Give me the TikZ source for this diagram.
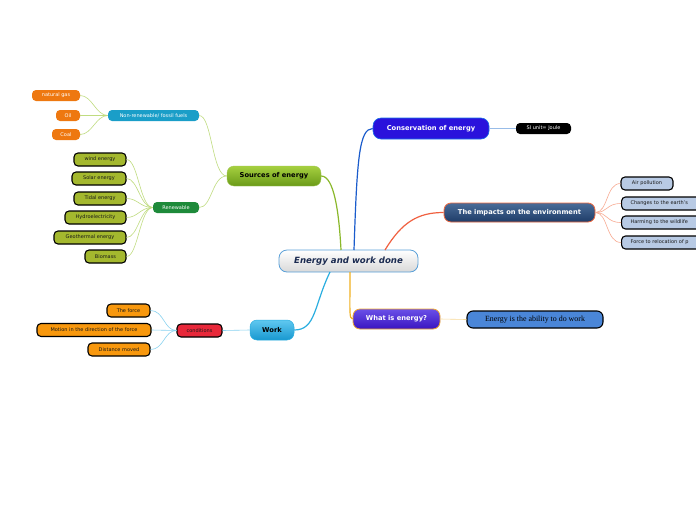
\documentclass[tikz,border=0pt]{standalone}
\usepackage{fontspec}
\setsansfont{DejaVu Sans}
\setmainfont{Liberation Serif}
\begin{document}
\begin{tikzpicture}[x=1pt,y=-1pt,
  box/.style={rounded corners=#1, inner sep=0pt, font=\sffamily},
  box/.default=4pt,
  tiny/.style={font=\sffamily\fontsize{5}{5.8}\selectfont},
  mid/.style={font=\sffamily\bfseries\fontsize{6.7}{7.8}\selectfont},
  leaf/.style={box, tiny, draw=black, line width=1.1pt, text=black!90},
  plain/.style={box, tiny, text=white},
  mainbr/.style={line width=1.2pt},
  subbr/.style={line width=0.6pt}
]
\definecolor{cBorder}{HTML}{5AA0D8}
\definecolor{cText}{HTML}{1A2A50}
\definecolor{gTop}{HTML}{A6D040}
\definecolor{gBot}{HTML}{6A9A18}
\definecolor{teal}{HTML}{1A9EC8}
\definecolor{fossil}{HTML}{EE7810}
\definecolor{renew}{HTML}{1E8A3A}
\definecolor{olive}{HTML}{A4B82E}
\definecolor{cons}{HTML}{2A12DC}
\definecolor{impTop}{HTML}{4A6C98}
\definecolor{impBot}{HTML}{1E3C68}
\definecolor{impBorder}{HTML}{F06A40}
\definecolor{impLeaf}{HTML}{B8CAE4}
\definecolor{wTop}{HTML}{60C8F0}
\definecolor{wBot}{HTML}{1898D0}
\definecolor{condRed}{HTML}{E8283A}
\definecolor{condLeaf}{HTML}{F8980E}
\definecolor{whTop}{HTML}{6A50E8}
\definecolor{whBot}{HTML}{3A14C0}
\definecolor{whBorder}{HTML}{F0A830}
\definecolor{ability}{HTML}{4A86D8}
\definecolor{lnGreen}{HTML}{8AB82A}
\definecolor{lnLGreen}{HTML}{C0DC80}
\definecolor{lnBlue}{HTML}{1A5CCC}
\definecolor{lnLBlue}{HTML}{98BCE8}
\definecolor{lnOrange}{HTML}{F06040}
\definecolor{lnSalmon}{HTML}{F8AA92}
\definecolor{lnSky}{HTML}{2AAEE0}
\definecolor{lnLSky}{HTML}{88D2F0}
\definecolor{lnYellow}{HTML}{F0B020}
\definecolor{lnLYellow}{HTML}{F8DA98}

\useasboundingbox (0,0) rectangle (696,520);
\clip (0,0) rectangle (696,520);
\fill[white] (0,0) rectangle (696,520);

\coordinate (cS) at (341,250);
\coordinate (cC) at (354,250);
\coordinate (cI) at (385,250);
\coordinate (cW) at (330,272);
\coordinate (cQ) at (350,272);

% ---- nodes ----
\node[box=8pt, draw=cBorder, line width=0.8pt, top color=white, bottom color=black!15,
      minimum width=139, minimum height=22, text=cText,
      font=\sffamily\bfseries\itshape\fontsize{8.6}{10}\selectfont] (ctr) at (348.5,261) {Energy and work done};

\node[box=7pt, top color=gTop, bottom color=gBot, draw=lnGreen!80, line width=0.4pt,
      minimum width=94, minimum height=20, mid, text=black] (src) at (274,176) {Sources of energy};
\node[plain, fill=teal, minimum width=91, minimum height=11] (nrf) at (153.5,115.5) {Non-renewable/ fossil fuels};
\node[plain, fill=fossil, minimum width=48, minimum height=11] (ng) at (56,95.5) {natural gas};
\node[plain, fill=fossil, minimum width=24, minimum height=11] (oil) at (68,115.5) {Oil};
\node[plain, fill=fossil, minimum width=28, minimum height=11] (coal) at (66,134.5) {Coal};
\node[plain, fill=renew, minimum width=46, minimum height=11] (ren) at (176,207.5) {Renewable};
\node[leaf, fill=olive, minimum width=52, minimum height=13] (wind) at (100,159.5) {wind energy};
\node[leaf, fill=olive, minimum width=54, minimum height=13] (solar) at (99,178.5) {Solar energy};
\node[leaf, fill=olive, minimum width=52, minimum height=13] (tidal) at (100,198.5) {Tidal energy};
\node[leaf, fill=olive, minimum width=61, minimum height=13] (hydro) at (95.5,217.5) {Hydroelectricity};
\node[leaf, fill=olive, minimum width=72, minimum height=13] (geo) at (90,237.5) {Geothermal energy};
\node[leaf, fill=olive, minimum width=41, minimum height=13] (bio) at (105.5,256.5) {Biomass};

\node[box=8pt, fill=cons, draw=cons!60!cyan, line width=0.6pt, minimum width=116, minimum height=21,
      mid, text=white] (con) at (431,128.5) {Conservation of energy};
\node[plain, fill=black, minimum width=55, minimum height=11] (si) at (543.5,128.5) {SI unit= Joule};

\node[box=7pt, top color=impTop, bottom color=impBot, draw=impBorder, line width=0.8pt,
      minimum width=151, minimum height=19, mid, text=white] (imp) at (519.5,212.5) {The impacts on the environment};
\node[leaf, fill=impLeaf, minimum width=52, minimum height=13] (air) at (647,183.5) {Air pollution};
\node[leaf, fill=impLeaf, minimum width=100, minimum height=13, anchor=west, text width=92, align=left] (clim) at (621,203.5) {\hspace*{5pt}Changes to the earth's};
\node[leaf, fill=impLeaf, minimum width=100, minimum height=13, anchor=west, text width=92, align=left] (wild) at (621,222.5) {\hspace*{5pt}Harming to the wildlife};
\node[leaf, fill=impLeaf, minimum width=100, minimum height=13, anchor=west, text width=92, align=left] (relo) at (621,242.5) {\hspace*{5pt}Force to relocation of p};

\node[box=7pt, top color=wTop, bottom color=wBot, draw=lnSky, line width=0.5pt,
      minimum width=44, minimum height=20, mid, text=black] (work) at (272,330) {Work};
\node[leaf, fill=condRed, minimum width=45, minimum height=13] (cond) at (199.5,330.5) {conditions};
\node[leaf, fill=condLeaf, minimum width=43, minimum height=13] (force) at (128.5,310.5) {The force};
\node[leaf, fill=condLeaf, minimum width=114, minimum height=13] (motion) at (94,330) {Motion in the direction of the force};
\node[leaf, fill=condLeaf, minimum width=62, minimum height=13] (dist) at (119,349.5) {Distance moved};

\node[box=7pt, top color=whTop, bottom color=whBot, draw=whBorder, line width=0.8pt,
      minimum width=87, minimum height=20, mid, text=white] (what) at (396.5,319) {What is energy?};
\node[box=6pt, fill=ability, draw=black, line width=1.1pt, minimum width=136, minimum height=17,
      font=\rmfamily\fontsize{7.9}{9}\selectfont, text=black] (abil) at (535,319.5) {Energy is the ability to do work};

% ---- connectors ----
\draw[mainbr, lnGreen] (cS) .. controls (339,212) and (334,176) .. (src.east);
\draw[mainbr, lnBlue] (cC) .. controls (357,160) and (359,128.5) .. (con.west);
\draw[mainbr, lnOrange] (cI) .. controls (402,222) and (418,212.5) .. (imp.west);
\draw[mainbr, lnSky] (cW) .. controls (314,305) and (316,330) .. (work.east);
\draw[mainbr, lnYellow] (cQ) .. controls (350,312) and (349,319) .. (what.west);

\draw[subbr, lnLGreen] (src.west) .. controls (212,176) and (212,115.5) .. (nrf.east);
\draw[subbr, lnLGreen] (src.west) .. controls (212,176) and (212,207.5) .. (ren.east);
\foreach \n in {ng,oil,coal}
  \draw[subbr, lnLGreen] (nrf.west) .. controls (96,115.5) and (92,0|-\n.east) .. (\n.east);
\foreach \n in {wind,solar,tidal,hydro,geo,bio}
  \draw[subbr, lnLGreen] (ren.west) .. controls (140,207.5) and (138,0|-\n.east) .. (\n.east);
\draw[subbr, lnLBlue] (con.east) -- (si.west);
\foreach \n in {air,clim,wild,relo}
  \draw[subbr, lnSalmon] (imp.east) .. controls (608,212.5) and (606,0|-\n.west) .. (\n.west);
\draw[subbr, lnLSky] (work.west) -- (cond.east);
\foreach \n in {force,motion,dist}
  \draw[subbr, lnLSky] (cond.west) .. controls (164,330.5) and (164,0|-\n.east) .. (\n.east);
\draw[subbr, lnLYellow] (what.east) -- (abil.west);
\end{tikzpicture}
\end{document}
